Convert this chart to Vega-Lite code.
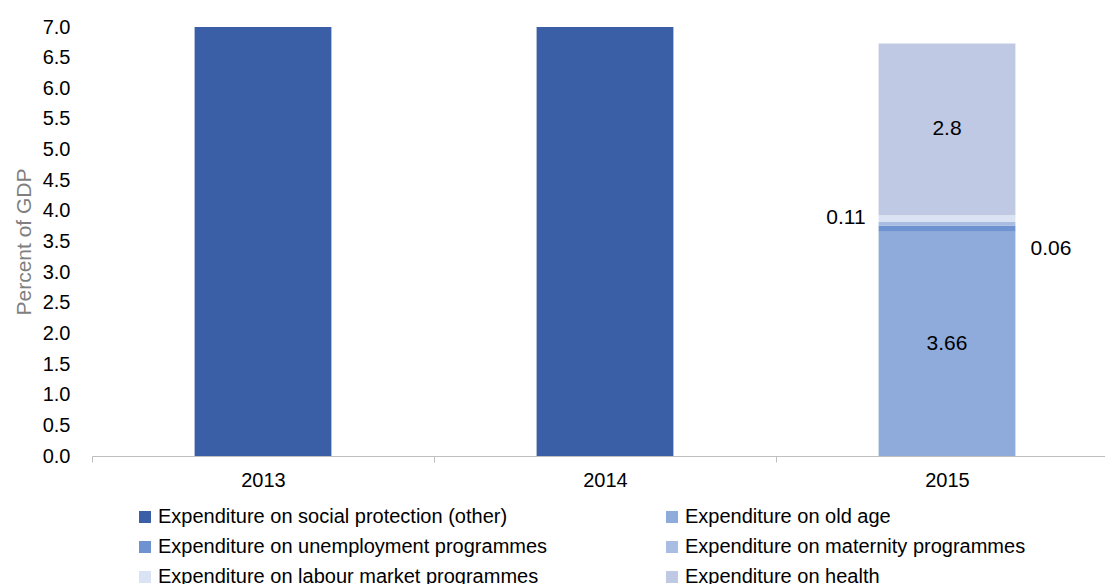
{
  "$schema": "https://vega.github.io/schema/vega-lite/v6.json",
  "autosize": "none",
  "padding": {"left": 92, "top": 27, "right": 0, "bottom": 128},
  "width": 1013,
  "height": 429,
  "config": {
    "view": {"stroke": null},
    "font": "Liberation Sans",
    "axisY": {
      "values": [0, 0.5, 1, 1.5, 2, 2.5, 3, 3.5, 4, 4.5, 5, 5.5, 6, 6.5, 7],
      "format": ".1f", "labelFontSize": 20, "labelColor": "#000000", "labelOverlap": false,
      "domain": false, "ticks": false, "grid": false, "labelPadding": 22,
      "titleFontSize": 21, "titleFontWeight": "normal", "titleColor": "#7f7f7f", "titlePadding": 8
    }
  },
  "data": {
    "values": [
      {"year": "2013", "category": "Expenditure on social protection (other)", "value": 7.0, "ord": 0},
      {"year": "2014", "category": "Expenditure on social protection (other)", "value": 7.0, "ord": 0},
      {"year": "2015", "category": "Expenditure on old age", "value": 3.66, "ord": 1, "label": "3.66", "pos": "in"},
      {"year": "2015", "category": "Expenditure on unemployment programmes", "value": 0.1, "ord": 2},
      {"year": "2015", "category": "Expenditure on maternity programmes", "value": 0.06, "ord": 3, "label": "0.06", "pos": "right"},
      {"year": "2015", "category": "Expenditure on labour market programmes", "value": 0.11, "ord": 4, "label": "0.11", "pos": "left"},
      {"year": "2015", "category": "Expenditure on health", "value": 2.8, "ord": 5, "label": "2.8", "pos": "in"}
    ]
  },
  "transform": [
    {"stack": "value", "groupby": ["year"], "sort": [{"field": "ord", "order": "ascending"}], "as": ["y0", "y1"]},
    {"calculate": "(datum.y0 + datum.y1) / 2", "as": "mid"}
  ],
  "encoding": {
    "x": {
      "field": "year", "type": "nominal",
      "scale": {"paddingInner": 0, "paddingOuter": 0, "range": [0, 1026]},
      "axis": {
        "title": null, "labelAngle": 0, "labelFontSize": 20, "labelColor": "#000000",
        "domainColor": "#bfbfbf", "tickColor": "#bfbfbf", "tickBand": "extent", "tickSize": 6,
        "labelPadding": 8
      }
    }
  },
  "layer": [
    {
      "mark": {"type": "bar", "width": {"band": 0.4}},
      "encoding": {
        "y": {
          "field": "y0", "type": "quantitative",
          "scale": {"domain": [0, 7]},
          "title": "Percent of GDP"
        },
        "y2": {"field": "y1"},
        "color": {
          "field": "category", "type": "nominal",
          "scale": {
            "domain": [
              "Expenditure on social protection (other)",
              "Expenditure on old age",
              "Expenditure on unemployment programmes",
              "Expenditure on maternity programmes",
              "Expenditure on labour market programmes",
              "Expenditure on health"
            ],
            "range": ["#3a5fa6", "#8eabdc", "#6f93d0", "#a9bde3", "#dae3f3", "#c0c9e3"]
          },
          "legend": {
            "title": null, "orient": "none", "direction": "horizontal", "columns": 2,
            "legendX": 43, "legendY": 480,
            "symbolType": "square", "symbolSize": 144, "symbolStrokeWidth": 0,
            "labelFontSize": 20, "labelColor": "#000000", "labelLimit": 500,
            "columnPadding": 114, "rowPadding": 10, "symbolOffset": 0, "labelOffset": 3
          }
        }
      }
    },
    {
      "transform": [{"filter": "datum.pos === 'in'"}],
      "mark": {"type": "text", "fontSize": 21, "color": "#000000"},
      "encoding": {
        "y": {"field": "mid", "type": "quantitative", "title": "Percent of GDP"},
        "text": {"field": "label"}
      }
    },
    {
      "transform": [{"filter": "datum.pos === 'left'"}],
      "mark": {"type": "text", "fontSize": 21, "color": "#000000", "dx": -101, "dy": -1},
      "encoding": {
        "y": {"field": "mid", "type": "quantitative", "title": "Percent of GDP"},
        "text": {"field": "label"}
      }
    },
    {
      "transform": [{"filter": "datum.pos === 'right'"}],
      "mark": {"type": "text", "fontSize": 21, "color": "#000000", "dx": 104, "dy": 25},
      "encoding": {
        "y": {"field": "mid", "type": "quantitative", "title": "Percent of GDP"},
        "text": {"field": "label"}
      }
    }
  ]
}
